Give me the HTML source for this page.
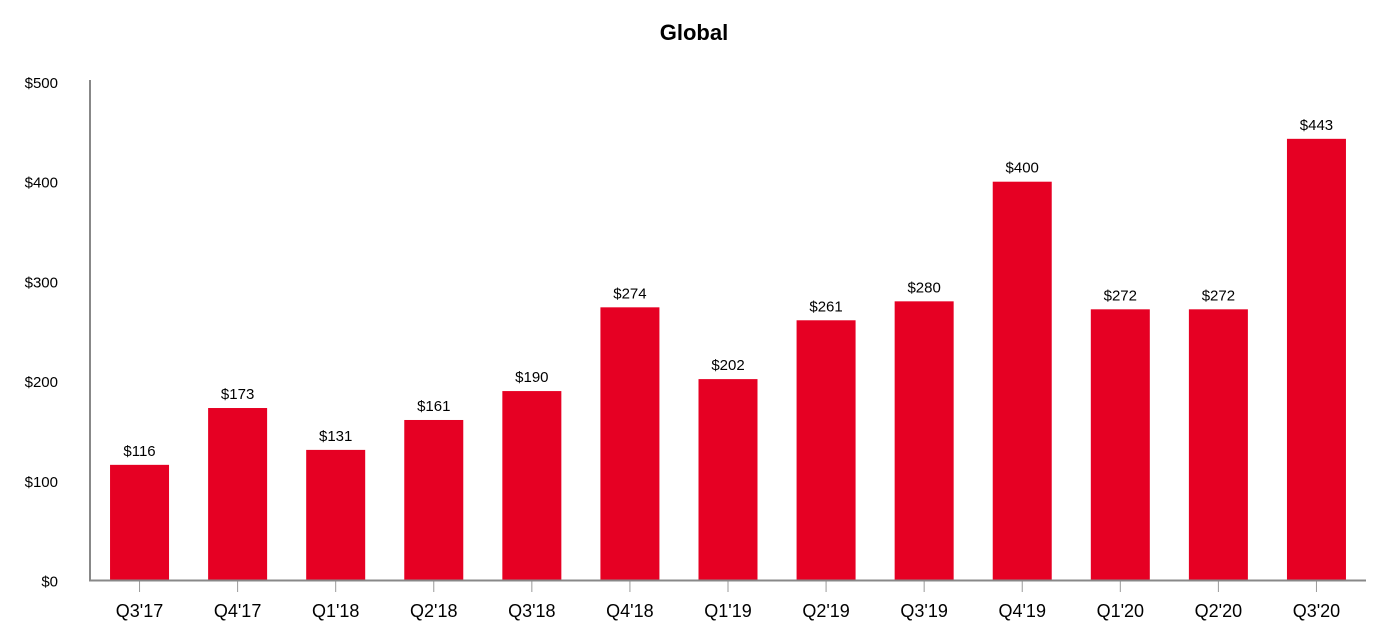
<!DOCTYPE html>
<html><head><meta charset="utf-8"><style>
html,body{margin:0;padding:0;background:#fff;}
svg{display:block;font-family:"Liberation Sans",Arial,sans-serif;}
</style></head><body>
<svg id="chart" width="1386" height="640">
<text x="694" y="40" text-anchor="middle" font-size="22" font-weight="bold" fill="#000">Global</text>
</svg>
<script>
const categories = ["Q3'17","Q4'17","Q1'18","Q2'18","Q3'18","Q4'18","Q1'19","Q2'19","Q3'19","Q4'19","Q1'20","Q2'20","Q3'20"];
const values = [116,173,131,161,190,274,202,261,280,400,272,272,443];
const yTicks = [0,100,200,300,400,500];

const svg = document.getElementById('chart');
const NS = 'http://www.w3.org/2000/svg';
const x0 = 90, x1 = 1365, yBase = 580.5, yTop = 82;
const yMax = 500;
const band = (x1 - x0) / categories.length;
const barW = 59;
function y(v){ return yBase - (v / yMax) * (yBase - yTop); }
function xc(i){ return x0 + band * (i + 0.5) + 0.5; }
function mk(tag, attrs){ const e = document.createElementNS(NS, tag); for (const k in attrs) e.setAttribute(k, attrs[k]); svg.appendChild(e); return e; }

yTicks.forEach(t => {
  const e = mk('text', {x: 58, y: y(t) + 6, 'text-anchor': 'end', 'font-size': 15, fill: '#000'});
  e.textContent = '$' + t;
  
  
});

values.forEach((v, i) => {
  const r = mk('rect', {x: xc(i) - barW/2, y: y(v), width: barW, height: yBase - y(v), fill: '#e60023'});
  
  
  const t = mk('text', {x: xc(i), y: y(v) - 9, 'text-anchor': 'middle', 'font-size': 15, fill: '#000'});
  t.textContent = '$' + v;
  
  
  const tk = mk('line', {x1: xc(i), x2: xc(i), y1: yBase, y2: 592, stroke: '#999', 'stroke-width': 1});
  
  
  const lb = mk('text', {x: xc(i), y: 617, 'text-anchor': 'middle', 'font-size': 18, fill: '#000'});
  lb.textContent = categories[i];
  
  
});

const ya = mk('line', {x1: 90, x2: 90, y1: 80, y2: 581, stroke: '#888', 'stroke-width': 2});


const xa = mk('line', {x1: 89, x2: 1366, y1: 580.5, y2: 580.5, stroke: '#888', 'stroke-width': 2});


</script>
</body></html>
